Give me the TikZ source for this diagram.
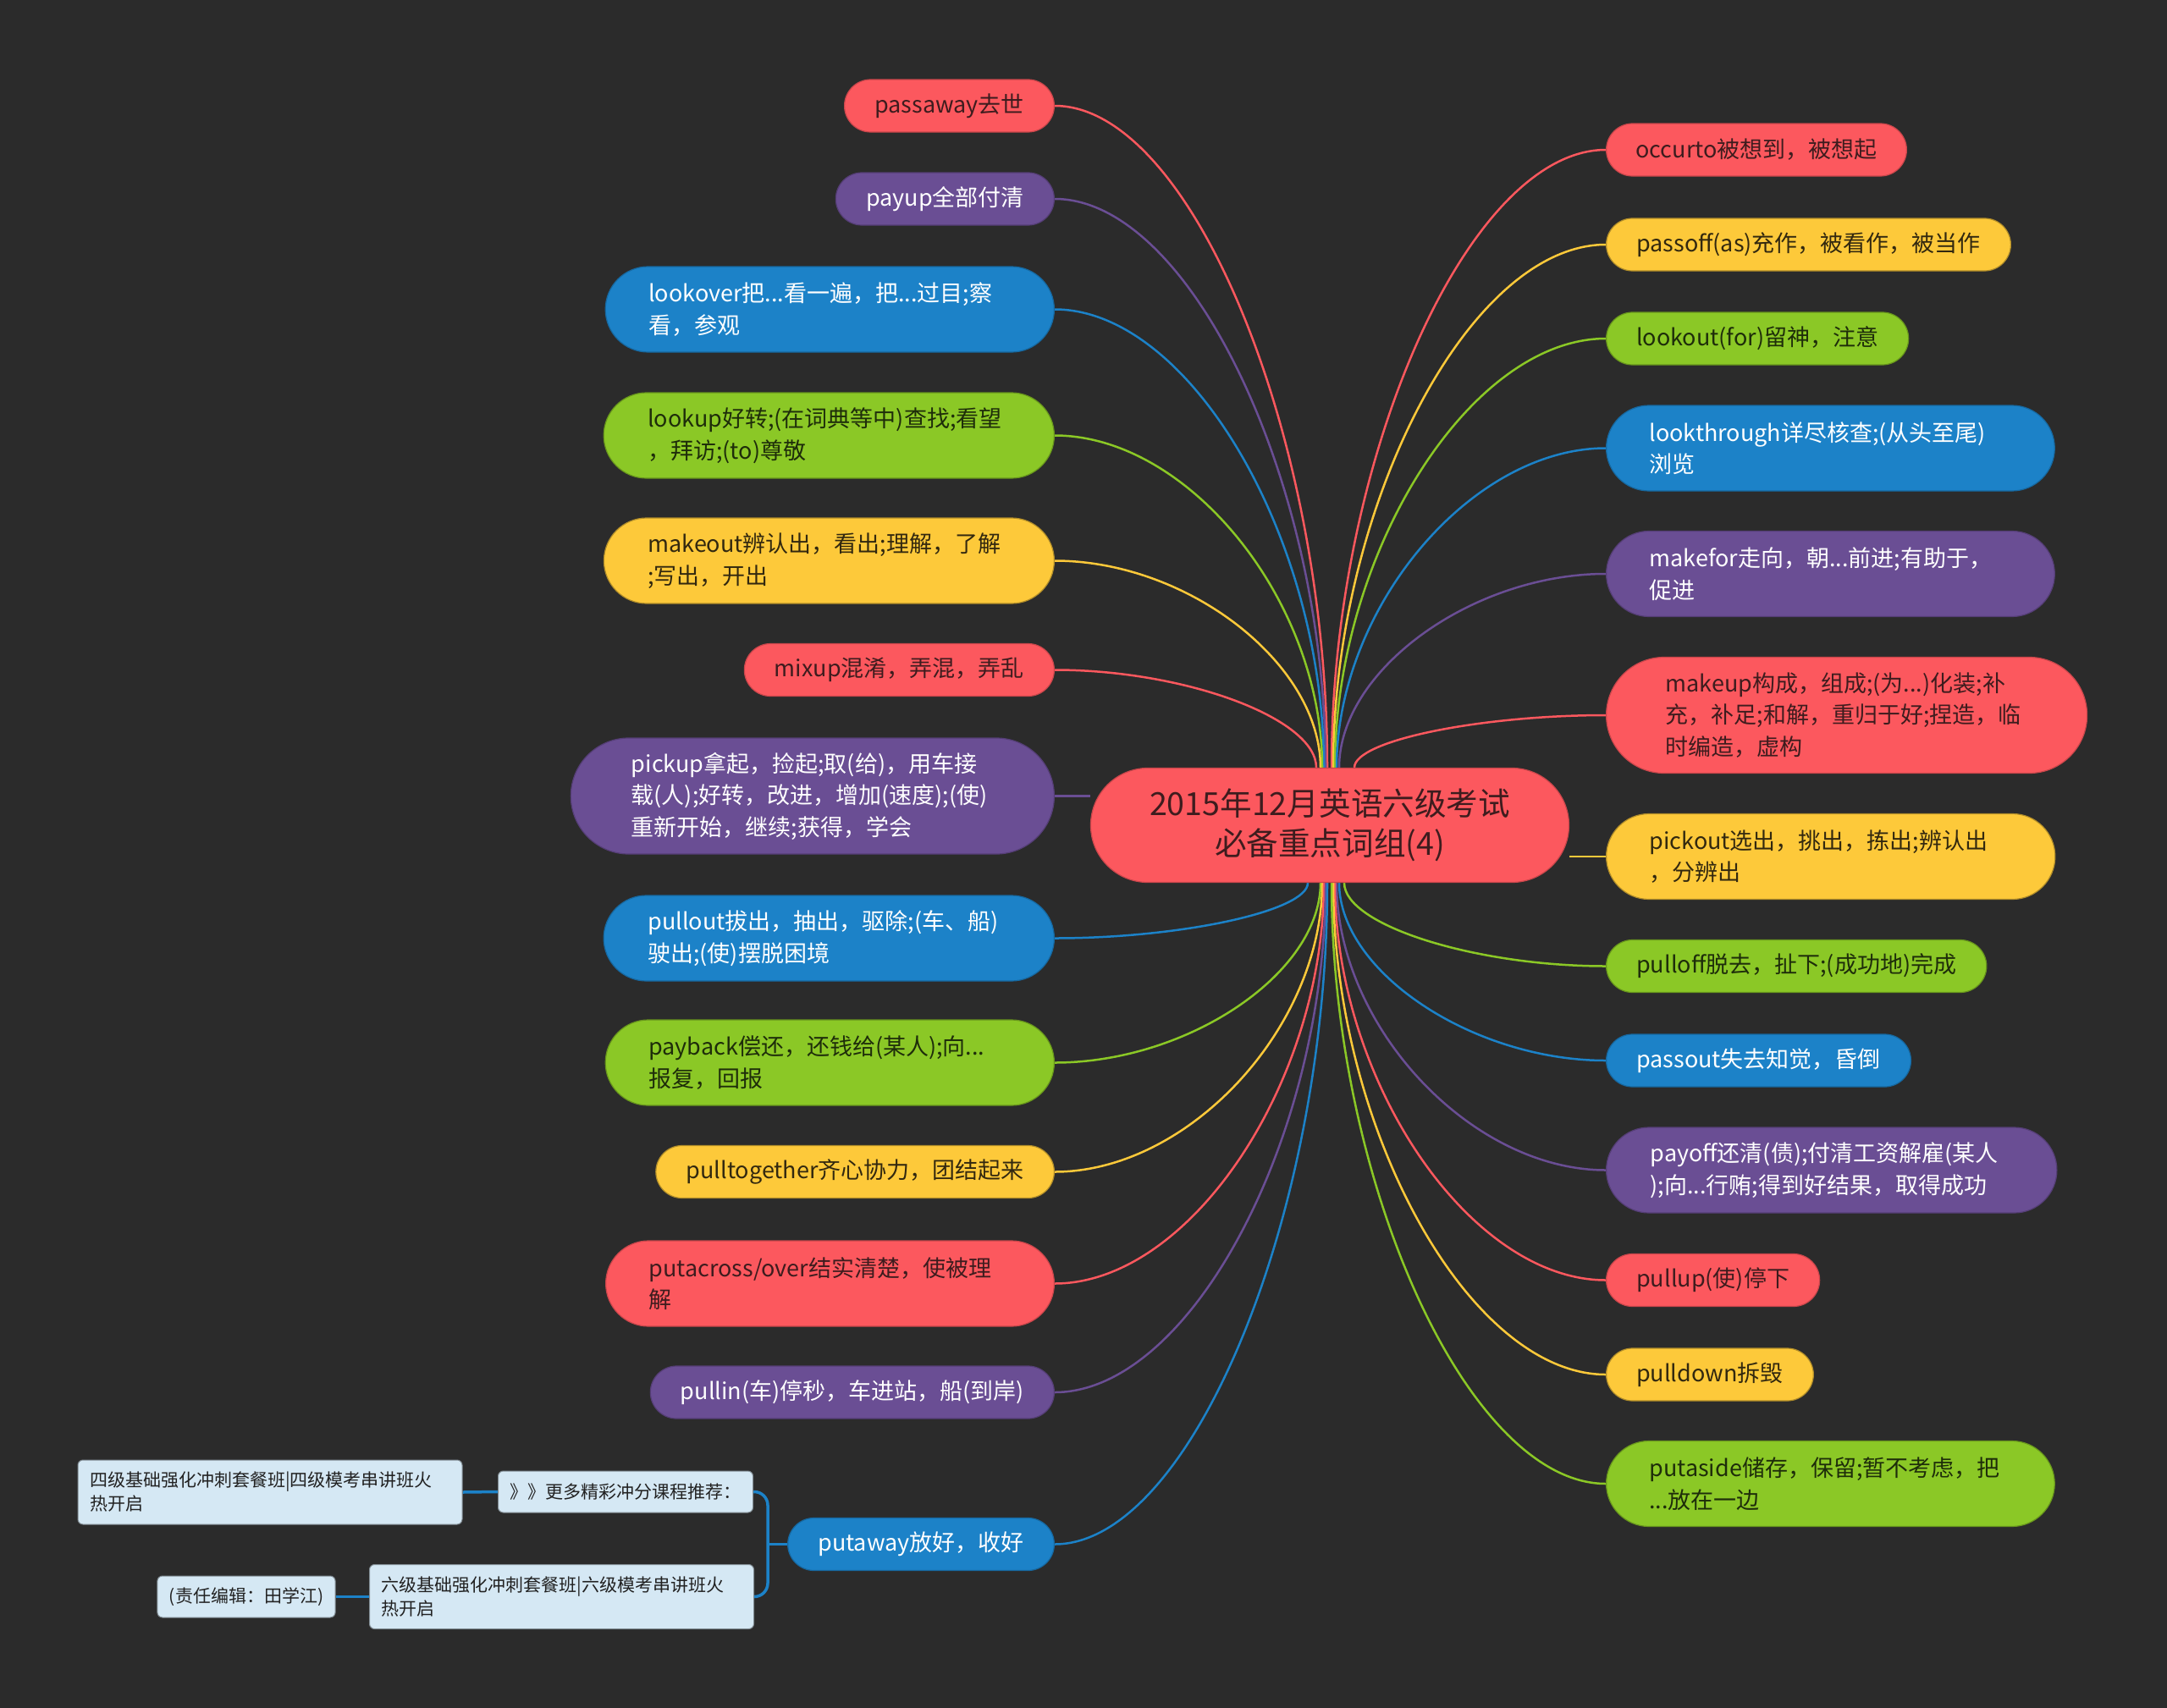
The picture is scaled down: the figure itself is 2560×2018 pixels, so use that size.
\documentclass[tikz,border=0pt]{standalone}
\usepackage{fontspec}
\setmainfont{Noto Sans CJK SC}
\usetikzlibrary{shapes.misc,backgrounds}

\definecolor{bgdark}{RGB}{43,43,43}
\definecolor{nred}{RGB}{252,88,94}
\definecolor{npurple}{RGB}{106,78,148}
\definecolor{nblue}{RGB}{28,130,200}
\definecolor{ngreen}{RGB}{139,200,38}
\definecolor{nyellow}{RGB}{253,201,58}
\definecolor{nsub}{RGB}{213,232,244}
\definecolor{redtxt}{RGB}{62,28,30}
\definecolor{yeltxt}{RGB}{50,40,15}
\definecolor{grntxt}{RGB}{30,45,10}
\definecolor{subtxt}{RGB}{34,34,34}

\pgfdeclarelayer{links}
\pgfsetlayers{background,links,main}

\tikzset{
leaf/.style={rounded rectangle, inner xsep=16pt, inner ysep=0pt, minimum height=31pt, line width=0.6pt, font=\fontsize{13.5pt}{18.75pt}\selectfont},
twoline/.style={leaf, inner xsep=20pt, text width=214pt, align=left, minimum height=50.5pt},
threeline/.style={leaf, inner xsep=24pt, text width=214pt, align=left, minimum height=68.5pt},
redleaf/.style={fill=nred, draw=nred!80!black, text=redtxt},
purpleleaf/.style={fill=npurple, draw=npurple!80!black, text=white},
blueleaf/.style={fill=nblue, draw=nblue!80!black, text=white},
greenleaf/.style={fill=ngreen, draw=ngreen!75!black, text=grntxt},
yellowleaf/.style={fill=nyellow, draw=nyellow!70!black, text=yeltxt},
subbox/.style={rectangle, rounded corners=3pt, fill=nsub, draw=nsub!60!black, line width=0.5pt, text=subtxt, inner xsep=7pt, inner ysep=0pt, minimum height=24.5pt, font=\fontsize{10.5pt}{14pt}\selectfont},
link/.style={line width=1.25pt},
sublink/.style={line width=1.75pt, nblue}
}

\begin{document}
\begin{tikzpicture}[x=0.5pt,y=-0.5pt]
\useasboundingbox (0,0) rectangle (2560,2018);
\begin{pgfonlayer}{background}
\fill[bgdark] (0,0) rectangle (2560,2018);
\end{pgfonlayer}

% Center Node
\node[leaf, fill=nred, draw=nred!80!black, text=redtxt, inner xsep=26pt, text width=215pt, align=center, minimum height=67.5pt, font=\fontsize{18.8pt}{23.5pt}\selectfont] (topic) at (1571,975) {2015年12月英语六级考试\\必备重点词组(4)};

% Text Node: left side
\node[leaf, redleaf, anchor=east] (passaway) at (1246,125) {passaway去世};
\node[leaf, purpleleaf, anchor=east] (payup) at (1246,235) {payup全部付清};
\node[twoline, blueleaf, anchor=east] (lookover) at (1246,365.5) {lookover把...看一遍，把...过目;察\\看，参观};
\node[twoline, greenleaf, anchor=east] (lookup) at (1246,514.5) {lookup好转;(在词典等中)查找;看望\\，拜访;(to)尊敬};
\node[twoline, yellowleaf, anchor=east] (makeout) at (1246,662.5) {makeout辨认出，看出;理解，了解\\;写出，开出};
\node[leaf, redleaf, anchor=east] (mixup) at (1246,791.5) {mixup混淆，弄混，弄乱};
\node[threeline, purpleleaf, anchor=east] (pickup) at (1246,940.5) {pickup拿起，捡起;取(给)，用车接\\载(人);好转，改进，增加(速度);(使)\\重新开始，继续;获得，学会};
\node[twoline, blueleaf, anchor=east] (pullout) at (1246,1108.5) {pullout拔出，抽出，驱除;(车、船)\\驶出;(使)摆脱困境};
\node[twoline, greenleaf, anchor=east] (payback) at (1246,1255.5) {payback偿还，还钱给(某人);向...\\报复，回报};
\node[leaf, yellowleaf, anchor=east] (pulltogether) at (1246,1384.5) {pulltogether齐心协力，团结起来};
\node[twoline, redleaf, anchor=east] (putacross) at (1246,1516.5) {putacross/over结实清楚，使被理\\解};
\node[leaf, purpleleaf, anchor=east] (pullin) at (1246,1645) {pullin(车)停秒，车进站，船(到岸)};
\node[leaf, blueleaf, anchor=east] (putaway) at (1246,1824.5) {putaway放好，收好};

% Text Node: right side
\node[leaf, redleaf, anchor=west] (occurto) at (1897,177) {occurto被想到，被想起};
\node[leaf, yellowleaf, anchor=west] (passoff) at (1897,289) {passoff(as)充作，被看作，被当作};
\node[leaf, greenleaf, anchor=west] (lookout) at (1897,400) {lookout(for)留神，注意};
\node[twoline, blueleaf, anchor=west] (lookthrough) at (1897,529.5) {lookthrough详尽核查;(从头至尾)\\浏览};
\node[twoline, purpleleaf, anchor=west] (makefor) at (1897,678) {makefor走向，朝...前进;有助于，\\促进};
\node[threeline, redleaf, anchor=west] (makeup) at (1897,845) {makeup构成，组成;(为...)化装;补\\充，补足;和解，重归于好;捏造，临\\时编造，虚构};
\node[twoline, yellowleaf, anchor=west] (pickout) at (1897,1012) {pickout选出，挑出，拣出;辨认出\\，分辨出};
\node[leaf, greenleaf, anchor=west] (pulloff) at (1897,1141.5) {pulloff脱去，扯下;(成功地)完成};
\node[leaf, blueleaf, anchor=west] (passout) at (1897,1253) {passout失去知觉，昏倒};
\node[twoline, purpleleaf, anchor=west] (payoff) at (1897,1382.5) {payoff还清(债);付清工资解雇(某人\\);向...行贿;得到好结果，取得成功};
\node[leaf, redleaf, anchor=west] (pullup) at (1897,1512.5) {pullup(使)停下};
\node[leaf, yellowleaf, anchor=west] (pulldown) at (1897,1624) {pulldown拆毁};
\node[twoline, greenleaf, anchor=west] (putaside) at (1897,1753) {putaside储存，保留;暂不考虑，把\\...放在一边};

% Text Node: putaway children
\node[subbox] (more) at (739,1762.5) {》》更多精彩冲分课程推荐：};
\node[subbox, text width=213pt, align=left, minimum height=38pt] (cet4) at (319,1763) {四级基础强化冲刺套餐班|四级模考串讲班火\\热开启};
\node[subbox, text width=213pt, align=left, minimum height=38pt] (cet6) at (663.5,1886.5) {六级基础强化冲刺套餐班|六级模考串讲班火\\热开启};
\node[subbox] (editor) at (291,1886.5) {(责任编辑：田学江)};
\coordinate (fork) at (907,1824.5);

\begin{pgfonlayer}{links}
%Curve Lines: left, upper half
\draw[link, nred] (passaway.east) .. controls +(161,0) and +(0,-392) .. ([xshift=-1.5pt]topic.north);
\draw[link, npurple] (payup.east) .. controls +(160,0) and +(0,-336) .. ([xshift=-2.5pt]topic.north);
\draw[link, nblue] (lookover.east) .. controls +(159,0) and +(0,-271) .. ([xshift=-3.5pt]topic.north);
\draw[link, ngreen] (lookup.east) .. controls +(158,0) and +(0,-197) .. ([xshift=-4.5pt]topic.north);
\draw[link, nyellow] (makeout.east) .. controls +(157,0) and +(0,-123) .. ([xshift=-5.5pt]topic.north);
\draw[link, nred] (mixup.east) .. controls +(154,0) and +(0,-58) .. ([xshift=-8pt]topic.north);
%Straight Lines
\draw[link, npurple] (pickup.east) -- (pickup.east -| topic.west);
\draw[link, nyellow] (pickout.west) -- (pickout.west -| topic.east);
%Curve Lines: left, lower half
\draw[link, nblue] (pullout.east) .. controls +(150,0) and +(0,33) .. ([xshift=-13pt]topic.south);
\draw[link, ngreen] (payback.east) .. controls +(157,0) and +(0,107) .. ([xshift=-5.5pt]topic.south);
\draw[link, nyellow] (pulltogether.east) .. controls +(158,0) and +(0,171) .. ([xshift=-4.5pt]topic.south);
\draw[link, nred] (putacross.east) .. controls +(159,0) and +(0,237) .. ([xshift=-3.5pt]topic.south);
\draw[link, npurple] (pullin.east) .. controls +(160,0) and +(0,301) .. ([xshift=-2.5pt]topic.south);
\draw[link, nblue] (putaway.east) .. controls +(161,0) and +(0,391) .. ([xshift=-1.5pt]topic.south);
%Curve Lines: right, upper half
\draw[link, nred] (occurto.west) .. controls +(-162,0) and +(0,-366) .. ([xshift=1pt]topic.north);
\draw[link, nyellow] (passoff.west) .. controls +(-161,0) and +(0,-310) .. ([xshift=2pt]topic.north);
\draw[link, ngreen] (lookout.west) .. controls +(-160,0) and +(0,-254) .. ([xshift=3pt]topic.north);
\draw[link, nblue] (lookthrough.west) .. controls +(-159,0) and +(0,-189) .. ([xshift=4pt]topic.north);
\draw[link, npurple] (makefor.west) .. controls +(-158,0) and +(0,-115) .. ([xshift=5.5pt]topic.north);
\draw[link, nred] (makeup.west) .. controls +(-148,0) and +(0,-32) .. ([xshift=14.5pt]topic.north);
%Curve Lines: right, lower half
\draw[link, ngreen] (pulloff.west) .. controls +(-154,0) and +(0,50) .. ([xshift=8.5pt]topic.south);
\draw[link, nblue] (passout.west) .. controls +(-157,0) and +(0,105) .. ([xshift=5.5pt]topic.south);
\draw[link, npurple] (payoff.west) .. controls +(-159,0) and +(0,170) .. ([xshift=4pt]topic.south);
\draw[link, nred] (pullup.west) .. controls +(-160,0) and +(0,235) .. ([xshift=3pt]topic.south);
\draw[link, nyellow] (pulldown.west) .. controls +(-161,0) and +(0,291) .. ([xshift=2pt]topic.south);
\draw[link, ngreen] (putaside.west) .. controls +(-162,0) and +(0,355) .. ([xshift=1pt]topic.south);
%Bracket Lines
\draw[sublink] (putaway.west) -- (fork);
\draw[sublink, rounded corners=8pt] (more.east) -| (fork) |- (cet6.east);
\draw[sublink] (cet4.east) -- (more.west);
\draw[sublink] (editor.east) -- (cet6.west);
\end{pgfonlayer}

\end{tikzpicture}
\end{document}
